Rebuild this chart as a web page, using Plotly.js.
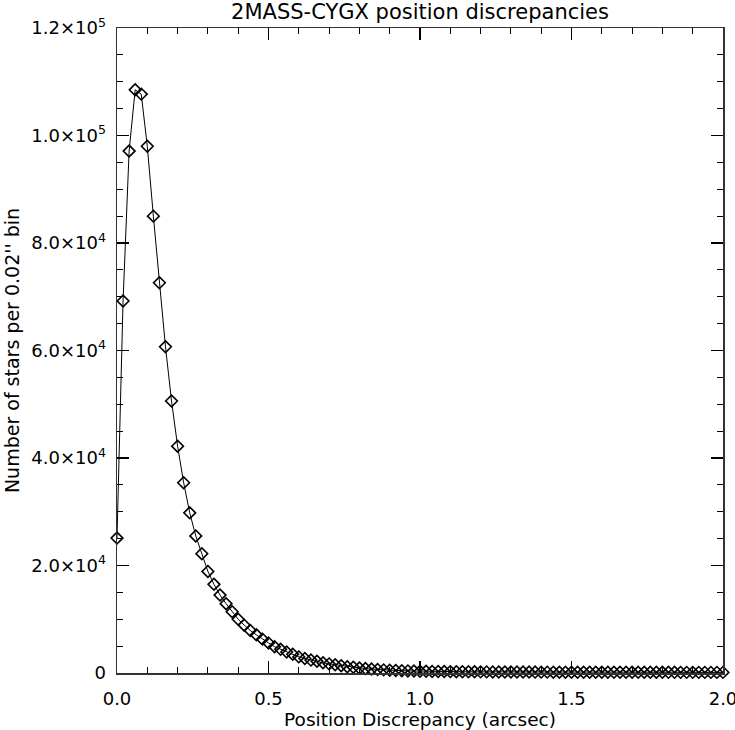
<!DOCTYPE html>
<html>
<head>
<meta charset="utf-8">
<script src="https://cdn.plot.ly/plotly-3.0.1.min.js"></script>
<style>html,body{margin:0;padding:0;background:#fff;}#chart{width:735px;height:730px;}</style>
</head>
<body>
<div id="chart"></div>
<script>
// Bin centres (arcsec), 0.02" bins
const binStart = 0.0;
const binWidth = 0.02;
const counts = [
  25100, 69200, 97100, 108500, 107700, 98000, 85000, 72600, 60700, 50600,
  42200, 35400, 29800, 25500, 22200, 18900, 16500, 14500, 12900, 11400,
  10000, 8900, 7900, 7100, 6300, 5600, 4900, 4400, 3900, 3500,
  3000, 2700, 2400, 2200, 1900, 1700, 1550, 1360, 1170, 1060,
  930, 820, 730, 650, 580, 520, 470, 430, 390, 360,
  330, 312, 294, 281, 266, 257, 244, 237, 226, 220,
  211, 206, 198, 194, 187, 184, 177, 175, 169, 167,
  162, 161, 156, 155, 150, 149, 145, 144, 141, 139,
  137, 135, 134, 131, 131, 128, 128, 126, 125, 123,
  123, 121, 121, 119, 119, 117, 117, 115, 115, 114, 113
];
const xTickVals = [0, 0.5, 1.0, 1.5, 2.0];
const xTickText = ['0.0', '0.5', '1.0', '1.5', '2.0'];
const yTickVals = [0, 20000, 40000, 60000, 80000, 100000, 120000];
const yTickText = ['0', '2.0×10<sup>4</sup>', '4.0×10<sup>4</sup>', '6.0×10<sup>4</sup>',
                   '8.0×10<sup>4</sup>', '1.0×10<sup>5</sup>', '1.2×10<sup>5</sup>'];

const xs = counts.map((_, i) => +(binStart + i * binWidth).toFixed(2));

const font = 'DejaVu Sans, Arial, sans-serif';
const xRange = [0, 2.000001];
const yRange = [0, 120000];
const axisCommon = {
  showgrid: false, zeroline: false, showline: true, linecolor: '#333', linewidth: 1.5,
  ticks: 'inside', ticklen: 12, tickcolor: '#000', tickwidth: 1.2,
  tickfont: {family: font, size: 18, color: '#000'}, ticklabeloverflow: 'allow'
};
const xMinor = {dtick: 0.1, ticks: 'inside', ticklen: 6, tickcolor: '#000', tickwidth: 1};
const yMinor = {dtick: 5000, ticks: 'inside', ticklen: 6, tickcolor: '#000', tickwidth: 1};

const trace = {
  x: xs, y: counts, type: 'scatter', mode: 'lines+markers', cliponaxis: false,
  line: {color: '#000', width: 1},
  marker: {symbol: 'diamond-open', size: 9, color: '#000', line: {color: '#000', width: 1.6}}
};
// invisible helper trace to carry mirrored top/right axes
const helper = {x: [xRange[0]], y: [yRange[0]], xaxis: 'x2', yaxis: 'y2', type: 'scatter',
  mode: 'markers', marker: {opacity: 0}, hoverinfo: 'skip', showlegend: false};

const layout = {
  width: 735, height: 730,
  margin: {l: 117, r: 12, t: 28, b: 57},
  paper_bgcolor: '#fff', plot_bgcolor: '#fff',
  showlegend: false,
  title: {text: '2MASS-CYGX position discrepancies', font: {family: font, size: 21, color: '#000'},
          x: 0.5, xref: 'paper', y: 0.984, yanchor: 'middle'},
  xaxis: Object.assign({}, axisCommon, {
    range: xRange, tickvals: xTickVals, ticktext: xTickText, ticklabelstandoff: 9,
    minor: xMinor,
    title: {text: 'Position Discrepancy (arcsec)', font: {family: font, size: 18.5, color: '#000'}, standoff: 3}
  }),
  yaxis: Object.assign({}, axisCommon, {
    range: yRange, tickvals: yTickVals, ticktext: yTickText, ticklabelstandoff: 6,
    minor: yMinor,
    title: {text: "Number of stars per 0.02'' bin", font: {family: font, size: 19, color: '#000'}, standoff: 6}
  }),
  xaxis2: Object.assign({}, axisCommon, {
    overlaying: 'x', side: 'top', anchor: 'y2', range: xRange, tickvals: xTickVals,
    showticklabels: false, minor: xMinor
  }),
  yaxis2: Object.assign({}, axisCommon, {
    overlaying: 'y', side: 'right', anchor: 'x2', range: yRange, tickvals: yTickVals,
    showticklabels: false, minor: yMinor
  })
};

Plotly.newPlot('chart', [trace, helper], layout, {displayModeBar: false, staticPlot: true});
</script>
</body>
</html>
